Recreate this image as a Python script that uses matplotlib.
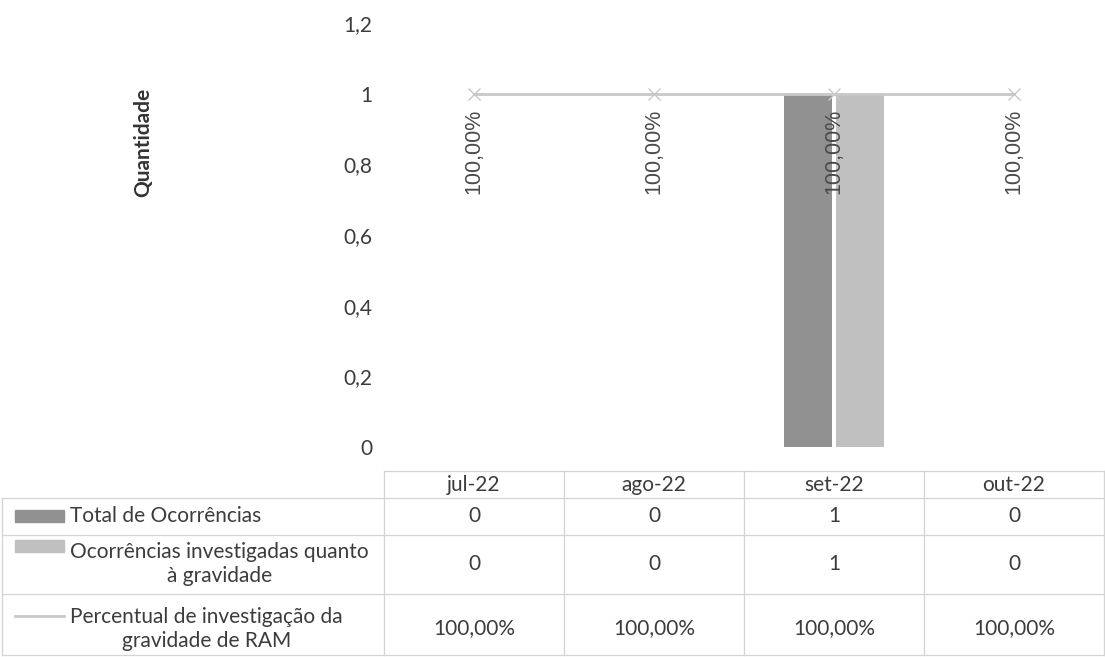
"""Ocorrências de RAM investigadas quanto à gravidade, jul-22 a out-22.

Column chart with a percentage line and an Excel-style data table below.
"""

import matplotlib

matplotlib.use("Agg")
import matplotlib.pyplot as plt
import numpy as np
from matplotlib.lines import Line2D
from matplotlib.patches import Rectangle
from matplotlib.transforms import blended_transform_factory

months = ["jul-22", "ago-22", "set-22", "out-22"]
total_ocorrencias = [0, 0, 1, 0]
investigadas = [0, 0, 1, 0]
percentual = [1.0, 1.0, 1.0, 1.0]
y_ticks = [0, 0.2, 0.4, 0.6, 0.8, 1.0, 1.2]
row_names = [
    "Total de Ocorrências",
    "Ocorrências investigadas quanto\nà gravidade",
    "Percentual de investigação da\ngravidade de RAM",
]

W, H = 1105, 657
DARK = "#919191"
LIGHT = "#c0c0c0"
LINE = "#c8c8c8"
TEXT = "#3c3c3c"
GRID = "#d4d4d4"
FONT = ["Lato", "DejaVu Sans"]


def br(v):
    return f"{v:g}".replace(".", ",")


def pct_text(v):
    return f"{v * 100:.2f}%".replace(".", ",")


plt.rcParams["font.family"] = FONT
fig = plt.figure(figsize=(W / 100, H / 100), dpi=100)
fig.patch.set_facecolor("white")

# plot area: x from 384 to 1104 px, y 0 at 447 px and 1.2 at 23 px
ax = fig.add_axes([384 / W, (H - 447) / H, 720 / W, 424 / H])
x = np.arange(len(months))
bw, off = 0.267, 0.145
ax.bar(x - off, total_ocorrencias, bw, color=DARK, zorder=2)
ax.bar(x + off, investigadas, bw, color=LIGHT, zorder=2)
ax.plot(x, percentual, color=LINE, lw=2, marker="x", ms=9, mew=1.0, zorder=3)
for xi, v in zip(x, percentual):
    ax.annotate(pct_text(v), (xi, v), xytext=(0, -11), textcoords="offset points",
                rotation=90, ha="center", va="top", fontsize=15.5, color="#4a4a4a",
                family=["Liberation Sans", "DejaVu Sans"], zorder=4)

ax.set_xlim(-0.5, len(months) - 0.5)
ax.set_ylim(0, 1.2)
ax.set_yticks(y_ticks)
ax.set_yticklabels([br(t) for t in y_ticks], fontsize=15, color=TEXT)
ax.tick_params(axis="y", length=0, pad=8.5)
ax.set_xticks([])
for s in ax.spines.values():
    s.set_visible(False)

fig.text(143 / W, (H - 142) / H, "Quantidade", rotation=90, ha="center", va="center",
         fontsize=15, fontweight="bold", color="#333333")

# data table below the plot, y in image pixel rows
tax = fig.add_axes([384 / W, 0, 720 / W, (H - 471) / H], sharex=ax)
tax.set_ylim(H, 471)
tax.axis("off")
edges = [471, 498, 535, 594, 655]
centers = [485, 516, 564, 628]

for xi, m in enumerate(months):
    tax.text(xi, centers[0], m, ha="center", va="center", fontsize=15, color=TEXT)
for row, vals in enumerate([total_ocorrencias, investigadas]):
    for xi, v in enumerate(vals):
        tax.text(xi, centers[row + 1], br(v), ha="center", va="center", fontsize=15, color=TEXT)
for xi, v in enumerate(percentual):
    tax.text(xi, centers[3], pct_text(v), ha="center", va="center", fontsize=15, color=TEXT)

# borders
blend = blended_transform_factory(fig.transFigure, tax.transData)
tax.plot([-0.5, len(months) - 0.5], [edges[0]] * 2, color=GRID, lw=0.9, clip_on=False)
for e in edges[1:]:
    fig.add_artist(Line2D([2 / W, 1104 / W], [e, e], transform=blend, color=GRID, lw=0.9))
for b in np.arange(len(months) + 1) - 0.5:
    tax.plot([b, b], [edges[0], edges[-1]], color=GRID, lw=0.9, clip_on=False)
fig.add_artist(Line2D([2 / W, 2 / W], [edges[1], edges[-1]], transform=blend, color=GRID, lw=0.9))

# row headers with legend keys
for yc, col in zip([516, 546], [DARK, LIGHT]):
    fig.add_artist(Rectangle((15 / W, (H - yc - 6) / H), 49 / W, 12 / H,
                             transform=fig.transFigure, color=col))
fig.add_artist(Line2D([15 / W, 64 / W], [(H - 616) / H] * 2, transform=fig.transFigure,
                      color=LINE, lw=2))

for name, yc in zip(row_names, [516, 564, 629]):
    fig.text(70 / W, (H - yc) / H, name, ha="left", va="center", fontsize=15,
             color=TEXT, multialignment="center", linespacing=1.25)

fig.savefig("out.png", dpi=100, facecolor="white")
